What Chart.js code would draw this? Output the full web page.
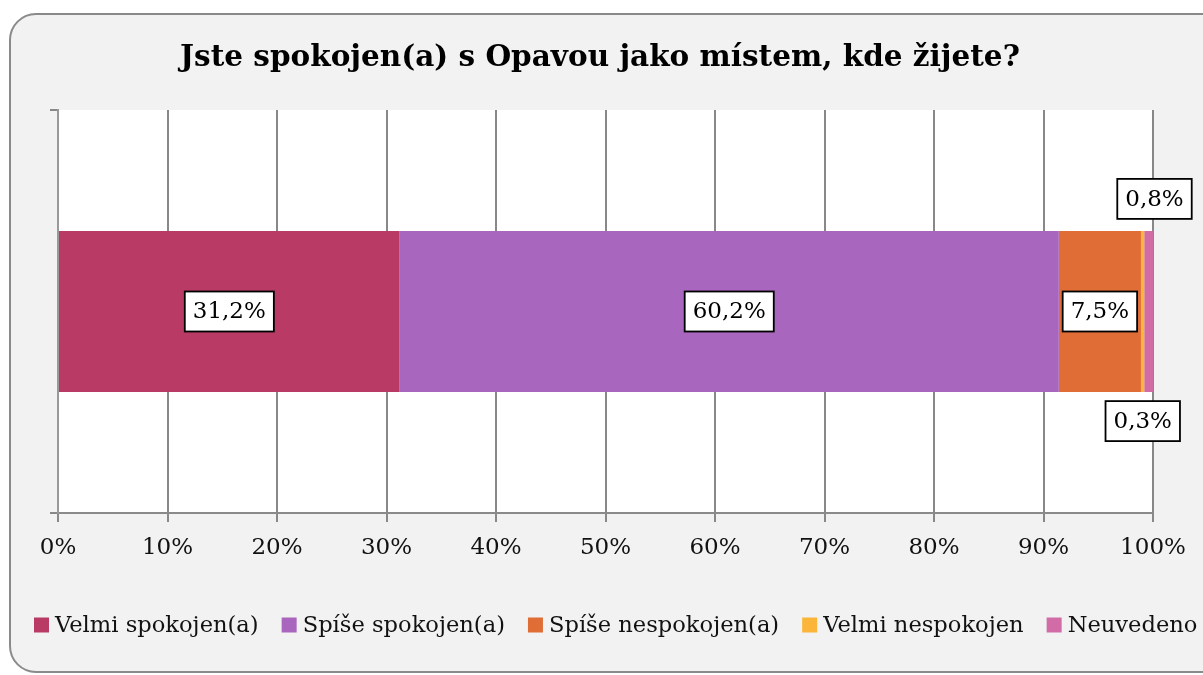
<!DOCTYPE html>
<html>
<head>
<meta charset="utf-8">
<script src="https://cdn.jsdelivr.net/npm/chart.js@4.4.0/dist/chart.umd.min.js"></script>
<style>
html,body{margin:0;padding:0;background:#fff;}
#wrap{width:1203px;height:675px;position:relative;}
</style>
</head>
<body>
<div id="wrap"><canvas id="c" width="1203" height="675"></canvas></div>
<script>
const titleText = 'Jste spokojen(a) s Opavou jako místem, kde žijete?';
const categories = [''];
const seriesNames = ['Velmi spokojen(a)', 'Spíše spokojen(a)', 'Spíše nespokojen(a)', 'Velmi nespokojen', 'Neuvedeno'];
const seriesValues = [31.2, 60.2, 7.5, 0.3, 0.8];
const seriesColors = ['#B93B65', '#A866BE', '#E06D36', '#FBB53A', '#D16CA6'];
const xTicks = [0, 10, 20, 30, 40, 50, 60, 70, 80, 90, 100];

const FONT = '"DejaVu Serif", serif';

const fmt = v => v.toFixed(1).replace('.', ',') + '%';

const framePlugin = {
  id: 'frame',
  beforeDraw(chart) {
    const ctx = chart.ctx;
    const a = chart.chartArea;
    ctx.save();
    ctx.fillStyle = '#fff';
    ctx.fillRect(0, 0, chart.width, chart.height);
    ctx.beginPath();
    ctx.roundRect(10, 14, 1230, 658, 26);
    ctx.fillStyle = '#f2f2f2';
    ctx.fill();
    ctx.lineWidth = 2;
    ctx.strokeStyle = '#8a8a8a';
    ctx.stroke();
    ctx.fillStyle = '#fff';
    ctx.fillRect(a.left, a.top, a.right - a.left, a.bottom - a.top);
    ctx.fillStyle = '#000';
    ctx.font = 'bold 29.5px ' + FONT;
    ctx.textAlign = 'center';
    ctx.textBaseline = 'middle';
    ctx.fillText(titleText, 600, 58);
    ctx.restore();
  }
};

const legendPlugin = {
  id: 'customLegend',
  afterDraw(chart) {
    const ctx = chart.ctx;
    ctx.save();
    ctx.font = '22.6px ' + FONT;
    ctx.textBaseline = 'middle';
    ctx.textAlign = 'left';
    const box = 15, gapText = 6, gapItem = 23;
    const items = chart.data.datasets.map(ds => ({
      text: ds.label, color: ds.backgroundColor,
      w: box + gapText + ctx.measureText(ds.label).width
    }));
    let x = 34;
    const y = 625;
    items.forEach(it => {
      ctx.fillStyle = it.color;
      ctx.fillRect(x, y - box / 2, box, box);
      ctx.fillStyle = '#111';
      ctx.fillText(it.text, x + box + gapText, y + 1);
      x += it.w + gapItem;
    });
    ctx.restore();
  }
};

function drawBox(ctx, text, cx, cy) {
  ctx.font = '23px ' + FONT;
  const w = ctx.measureText(text).width + 16;
  const h = 40;
  ctx.fillStyle = '#fff';
  ctx.fillRect(cx - w / 2, cy - h / 2, w, h);
  ctx.lineWidth = 1.8;
  ctx.strokeStyle = '#000';
  ctx.strokeRect(cx - w / 2, cy - h / 2, w, h);
  ctx.fillStyle = '#000';
  ctx.textAlign = 'center';
  ctx.textBaseline = 'middle';
  ctx.fillText(text, cx, cy + 1);
}

const labelPlugin = {
  id: 'labels',
  afterDatasetsDraw(chart) {
    const ctx = chart.ctx;
    ctx.save();
    const last = chart.getDatasetMeta(seriesValues.length - 1).data[0];
    chart.data.datasets.forEach((ds, i) => {
      const el = chart.getDatasetMeta(i).data[0];
      const v = ds.data[0];
      const text = fmt(v);
      const top = el.y - el.height / 2;
      const bottom = el.y + el.height / 2;
      if (v >= 5) {
        drawBox(ctx, text, (el.x + el.base) / 2, el.y);
      } else if (i === seriesValues.length - 1) {
        const cy = top - 32;
        ctx.strokeStyle = '#888';
        ctx.lineWidth = 2;
        ctx.beginPath();
        ctx.moveTo(el.x, cy + 20);
        ctx.lineTo(el.x, top);
        ctx.stroke();
        drawBox(ctx, text, el.x + 1.5, cy);
      } else {
        const cy = bottom + 29;
        ctx.strokeStyle = '#888';
        ctx.lineWidth = 2;
        ctx.beginPath();
        ctx.moveTo(last.x, bottom);
        ctx.lineTo(last.x, cy - 20);
        ctx.stroke();
        drawBox(ctx, text, el.x - 1.5, cy);
      }
    });
    ctx.restore();
  }
};

new Chart(document.getElementById('c'), {
  type: 'bar',
  data: {
    labels: categories,
    datasets: seriesNames.map((n, i) => ({
      label: n,
      data: [seriesValues[i]],
      backgroundColor: seriesColors[i],
      borderWidth: 0,
      categoryPercentage: 0.4,
      barPercentage: 1
    }))
  },
  options: {
    indexAxis: 'y',
    responsive: false,
    animation: false,
    devicePixelRatio: 1,
    layout: { padding: { top: 110, left: 0, right: 0, bottom: 0 } },
    plugins: {
      title: { display: false },
      tooltip: { enabled: false },
      legend: { display: false }
    },
    scales: {
      x: {
        type: 'linear',
        stacked: true,
        min: 0,
        max: 100,
        afterBuildTicks(scale) { scale.ticks = xTicks.map(v => ({ value: v })); },
        afterFit(scale) { scale.height = 162; },
        ticks: {
          callback: v => v + '%',
          color: '#111',
          padding: 12,
          maxRotation: 0,
          font: { family: FONT, size: 23 }
        },
        grid: { color: '#888', lineWidth: 2, tickLength: 9 },
        border: { color: '#8a8a8a', width: 2 }
      },
      y: {
        type: 'category',
        stacked: true,
        offset: true,
        afterFit(scale) { scale.width = 58; },
        ticks: { display: false },
        grid: { offset: true, drawOnChartArea: false, color: '#888', lineWidth: 2, tickLength: 8 },
        border: { color: '#999', width: 2 }
      },
      y2: {
        type: 'linear',
        position: 'right',
        display: true,
        afterFit(scale) { scale.width = 50; },
        ticks: { display: false },
        grid: { display: false },
        border: { display: false }
      }
    }
  },
  plugins: [framePlugin, labelPlugin, legendPlugin]
});
</script>
</body>
</html>
